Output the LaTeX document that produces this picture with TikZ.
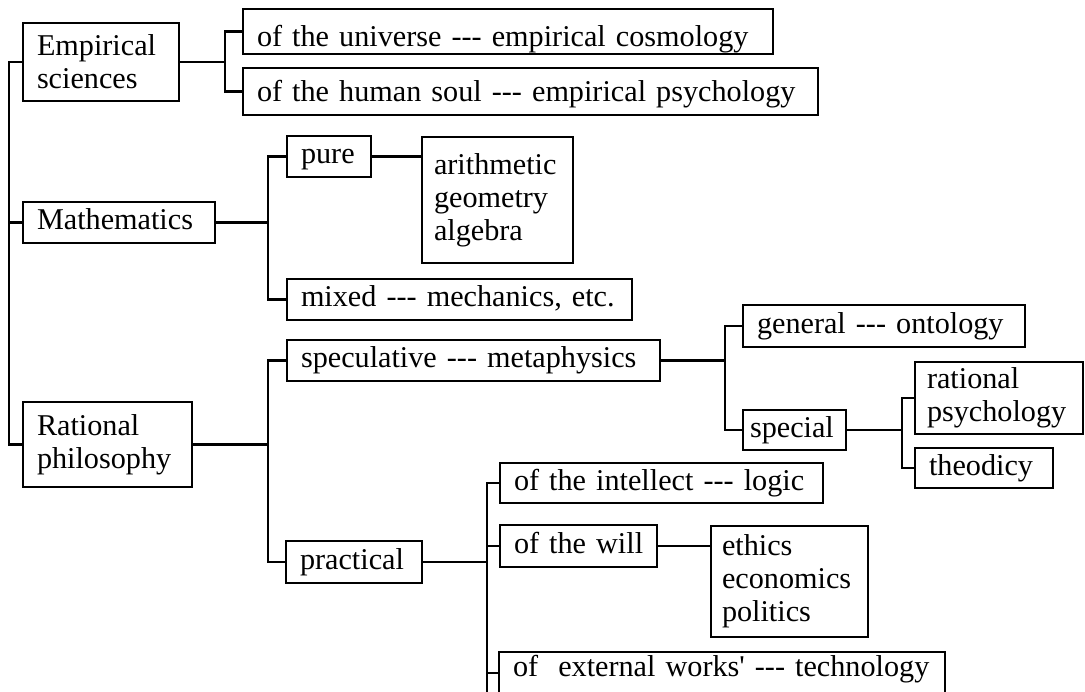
\documentclass[tikz,border=0pt]{standalone}
\usepackage{fontspec}
\setmainfont{Liberation Serif}[Ligatures=TeXOff]
\newcommand\lin[1]{\mbox{#1}}
\begin{document}
\begin{tikzpicture}[x=1pt,y=-1pt,
  every node/.style={font=\fontsize{30.2}{33}\selectfont},
  bx/.style 2 args={draw, line width=2.6pt, rectangle, inner xsep=14pt, inner ysep=1pt,
    text width=#1, minimum height=#2, align=left},
  one/.style={text height=22pt, text depth=7pt},
  conn/.style={line width=2.6pt}]
\clip (0,0) rectangle (1085,692);
\fill[white] (0,0) rectangle (1085,692);
% nodes
\node[bx={128pt}{78pt}] (E) at (101,62) {\lin{Empirical}\\\lin{sciences}};
\node[bx={502pt}{45pt}, text height=34pt, text depth=4pt] (U) at (508,31.5) {\lin{of the universe --- empirical cosmology}};
\node[bx={547pt}{47pt}, text height=25pt, text depth=5pt] (H) at (530.5,91.5) {\lin{of the human soul --- empirical psychology}};
\node[bx={164pt}{41pt}, one] (M) at (119,222.5) {\lin{Mathematics}};
\node[bx={56pt}{41pt}, one] (P) at (329,156.5) {\lin{pure}};
\node[bx={127pt}{126pt}, inner xsep=12pt] (A) at (497.5,200) {\lin{arithmetic}\\\lin{geometry}\\\lin{algebra}};
\node[bx={317pt}{41pt}, one] (X) at (459.5,299.5) {\lin{mixed --- mechanics, etc.}};
\node[bx={345pt}{41pt}, one] (S) at (473.5,360.5) {\lin{speculative --- metaphysics}};
\node[bx={254pt}{42pt}, one] (G) at (884,326) {\lin{general --- ontology}};
\node[bx={89pt}{40pt}, inner xsep=7pt, one] (Sp) at (794.5,430) {\lin{special}};
\node[bx={144pt}{72pt}, inner xsep=12pt] (RP) at (999,398) {\lin{rational}\\\lin{psychology}};
\node[bx={110pt}{40pt}, one] (T) at (984,468) {\lin{theodicy}};
\node[bx={141pt}{85pt}] (R) at (107.5,444.5) {\lin{Rational}\\\lin{philosophy}};
\node[bx={108pt}{42pt}, one] (Pr) at (354,562) {\lin{practical}};
\node[bx={295pt}{40pt}, one] (I) at (661.5,483) {\lin{of the intellect --- logic}};
\node[bx={129pt}{42pt}, one] (Wi) at (578.5,546) {\lin{of the will}};
\node[bx={135pt}{111pt}, inner xsep=11pt] (Et) at (789.5,581.5) {\lin{ethics}\\\lin{economics}\\\lin{politics}};
\node[bx={418pt}{42pt}, text height=21pt, text depth=15pt] (Ex) at (722,673) {\lin{of\ \ external works' --- technology}};
% junction columns
\coordinate (j0) at (9,0);
\coordinate (j1) at (225,0);
\coordinate (j2) at (268,0);
\coordinate (j3) at (725,0);
\coordinate (j4) at (902,0);
\coordinate (j5) at (487,0);
% connectors
\draw[conn] (E.west) -| (j0 |- R.west) -- (R.west);
\draw[conn] (M.west) -- (M.west -| j0);
\draw[conn] (E.east) -- (E.east -| j1);
\draw[conn] (U.west) -| (j1 |- H.west) -- (H.west);
\draw[conn] (M.east) -- (M.east -| j2);
\draw[conn] (P.west) -| (j2 |- X.west) -- (X.west);
\draw[conn] (P.east) -- (P.east -| A.west);
\draw[conn] (R.east) -- (R.east -| j2);
\draw[conn] (S.west) -| (j2 |- Pr.west) -- (Pr.west);
\draw[conn] (S.east) -- (S.east -| j3);
\draw[conn] (G.west) -| (j3 |- Sp.west) -- (Sp.west);
\draw[conn] (Sp.east) -- (Sp.east -| j4);
\draw[conn] (RP.west) -| (j4 |- T.west) -- (T.west);
\draw[conn] (Pr.east) -- (Pr.east -| j5);
\draw[conn] (I.west) -| (j5 |- Ex.west) -- (Ex.west);
\draw[conn] (j5 |- Ex.west) -- ++(0,25);
\draw[conn] (Wi.west) -- (Wi.west -| j5);
\draw[conn] (Wi.east) -- (Wi.east -| Et.west);
\end{tikzpicture}
\end{document}
